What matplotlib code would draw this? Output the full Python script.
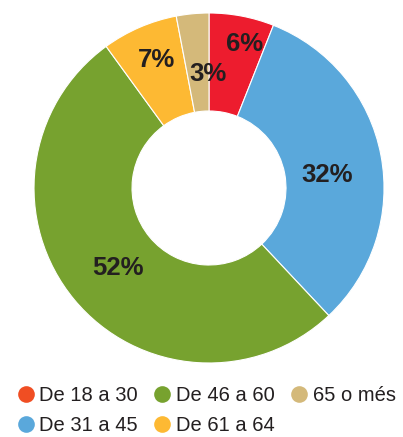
import matplotlib
matplotlib.use("Agg")
import matplotlib.pyplot as plt
import numpy as np
from matplotlib.lines import Line2D

categories = ["De 18 a 30", "De 31 a 45", "De 46 a 60", "De 61 a 64", "65 o més"]
values = [6, 32, 52, 7, 3]
labels = ["6%", "32%", "52%", "7%", "3%"]

colors = ["#ED1C2E", "#5AA8DB", "#77A22F", "#FDB933", "#D4B97A"]
legend_colors = ["#F04E23", "#5AA8DB", "#77A22F", "#FDB933", "#D4B97A"]
# label placement (angle offset in degrees, radius fraction)
label_ang_off = [-3, -4.5, 1.7, -1, -5]
label_rad = [0.85, 0.68, 0.69, 0.79, 0.65]

plt.rcParams['font.family'] = ['Liberation Sans', 'DejaVu Sans']

fig = plt.figure(figsize=(4.03, 4.37), dpi=100)
ax = fig.add_axes([0.0844, 0.1693, 0.8685, 0.801])
wedges, _ = ax.pie(values, colors=colors, startangle=90, counterclock=False,
                   radius=1.0, wedgeprops=dict(width=0.56, edgecolor="white", linewidth=0.8))
ax.set_xlim(-1, 1)
ax.set_ylim(-1, 1)
ax.set_aspect("equal")
ax.axis("off")

for w, lab, off, r in zip(wedges, labels, label_ang_off, label_rad):
    ang = np.deg2rad((w.theta1 + w.theta2) / 2 + off)
    ax.text(r * np.cos(ang), r * np.sin(ang), lab, ha="center", va="center",
            fontsize=18.5, fontweight="bold", color="#231F20")

handles = [Line2D([0], [0], marker="o", linestyle="none", markersize=12,
                  markerfacecolor=c, markeredgecolor="none") for c in legend_colors]
fig.legend(handles, categories, ncol=3, loc="center left", bbox_to_anchor=(0.043, 0.060),
           frameon=False, fontsize=14.5, handletextpad=0.28, columnspacing=0.78,
           labelspacing=0.55, handlelength=0.82, labelcolor="#231F20",
           borderaxespad=0, borderpad=0)

fig.savefig("out.png", dpi=100)
